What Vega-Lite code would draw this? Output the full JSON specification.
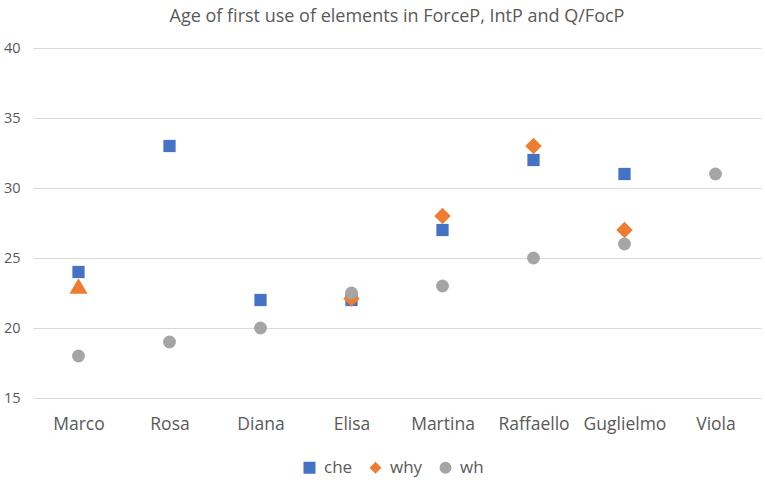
{
  "$schema": "https://vega.github.io/schema/vega-lite/v6.json",
  "width": 728,
  "height": 350,
  "autosize": {"type": "none"},
  "padding": {"left": 33, "top": 48, "right": 4, "bottom": 82},
  "background": "white",
  "title": {
    "text": "Age of first use of elements in ForceP, IntP and Q/FocP",
    "fontSize": 18,
    "font": "Open Sans",
    "fontWeight": "normal",
    "color": "#595959",
    "anchor": "middle",
    "offset": 14
  },
  "data": {
    "values": [
      {"name": "Marco", "series": "che", "age": 24},
      {"name": "Rosa", "series": "che", "age": 33},
      {"name": "Diana", "series": "che", "age": 22},
      {"name": "Elisa", "series": "che", "age": 22},
      {"name": "Martina", "series": "che", "age": 27},
      {"name": "Raffaello", "series": "che", "age": 32},
      {"name": "Guglielmo", "series": "che", "age": 31},
      {"name": "Marco", "series": "why", "age": 23},
      {"name": "Elisa", "series": "why", "age": 22.1},
      {"name": "Martina", "series": "why", "age": 28},
      {"name": "Raffaello", "series": "why", "age": 33},
      {"name": "Guglielmo", "series": "why", "age": 27},
      {"name": "Marco", "series": "wh", "age": 18},
      {"name": "Rosa", "series": "wh", "age": 19},
      {"name": "Diana", "series": "wh", "age": 20},
      {"name": "Elisa", "series": "wh", "age": 22.5},
      {"name": "Martina", "series": "wh", "age": 23},
      {"name": "Raffaello", "series": "wh", "age": 25},
      {"name": "Guglielmo", "series": "wh", "age": 26},
      {"name": "Viola", "series": "wh", "age": 31}
    ]
  },
  "mark": {"type": "point", "filled": true, "opacity": 1},
  "encoding": {
    "x": {
      "field": "name",
      "type": "nominal",
      "sort": ["Marco", "Rosa", "Diana", "Elisa", "Martina", "Raffaello", "Guglielmo", "Viola"],
      "scale": {"padding": 0.5},
      "axis": {
        "title": null,
        "labelAngle": 0,
        "labelFontSize": 17.5,
        "labelFont": "Open Sans",
        "labelColor": "#595959",
        "labelPadding": 17,
        "ticks": false,
        "domain": false,
        "grid": false
      }
    },
    "y": {
      "field": "age",
      "type": "quantitative",
      "scale": {"domain": [15, 40], "nice": false, "zero": false},
      "axis": {
        "title": null,
        "values": [15, 20, 25, 30, 35, 40],
        "labelFontSize": 14.5,
        "labelFont": "Open Sans",
        "labelColor": "#595959",
        "labelPadding": 13,
        "ticks": false,
        "domain": false,
        "gridColor": "#D9D9D9",
        "gridWidth": 1
      }
    },
    "color": {
      "field": "series",
      "type": "nominal",
      "scale": {"domain": ["che", "why", "wh"], "range": ["#4472C4", "#ED7D31", "#A5A5A5"]},
      "legend": {
        "title": null,
        "orient": "none",
        "direction": "horizontal",
        "legendX": 268,
        "legendY": 411,
        "labelFontSize": 17,
        "labelFont": "Open Sans",
        "labelColor": "#595959",
        "symbolSize": 144,
        "columnPadding": 14,
        "labelOffset": 6
      }
    },
    "shape": {
      "condition": {"test": "datum.name === 'Marco' && datum.series === 'why'", "value": "triangle-up"},
      "field": "series",
      "type": "nominal",
      "scale": {"domain": ["che", "why", "wh"], "range": ["square", "diamond", "circle"]}
    },
    "size": {
      "condition": [
        {"test": "datum.name === 'Marco' && datum.series === 'why'", "value": 330},
        {"test": "datum.series === 'why'", "value": 270},
        {"test": "datum.series === 'wh'", "value": 165}
      ],
      "value": 150
    }
  },
  "config": {
    "view": {"stroke": null}
  }
}
